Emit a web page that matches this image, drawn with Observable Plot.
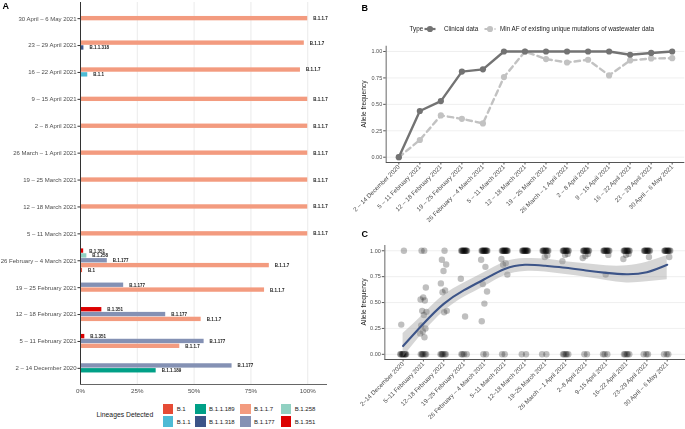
<!DOCTYPE html>
<html><head><meta charset="utf-8">
<script src="https://cdn.jsdelivr.net/npm/d3@7"></script>
<script src="https://cdn.jsdelivr.net/npm/@observablehq/plot@0.6"></script>
<style>
body{margin:0;background:#fff;font-family:"Liberation Sans",Arial,sans-serif;}
#root{position:relative;width:685px;height:429px;overflow:hidden;background:#fff;}
#root svg{position:absolute;will-change:transform;}
.t{position:absolute;white-space:nowrap;line-height:1;}
.plab{position:absolute;font-weight:bold;font-size:9px;color:#000;line-height:1;}
.ytitle{position:absolute;font-size:6.6px;color:#1a1a1a;white-space:nowrap;transform:translate(-50%,-50%) rotate(-90deg);line-height:1;}
.key{position:absolute;width:10.5px;height:10.5px;}
.ll{position:absolute;font-size:6px;color:#1a1a1a;line-height:1;transform:translateY(-50%);white-space:nowrap;}
</style></head><body><div id="root"></div>
<script>
// ---------- data ----------
const weeksA = ["2 – 14 December 2020","5 – 11 February 2021","12 – 18 February 2021","19 – 25 February 2021","26 February – 4 March 2021","5 – 11 March 2021","12 – 18 March 2021","19 – 25 March 2021","26 March – 1 April 2021","2 – 8 April 2021","9 – 15 April 2021","16 – 22 April 2021","23 – 29 April 2021","30 April – 6 May 2021"];
const weeksC = ["2–14 December 2020","5–11 February 2021","12–18 February 2021","19–25 February 2021","26 February – 4 March 2021","5–11 March 2021","12–18 March 2021","19–25 March 2021","26 March – 1 April 2021","2–8 April 2021","9–15 April 2021","16–22 April 2021","23–29 April 2021","30 April – 6 May 2021"];
const lineages = ["B.1","B.1.1","B.1.1.189","B.1.1.318","B.1.1.7","B.1.177","B.1.258","B.1.351"];
const lineageColors = ["#E64B35","#4DBBD5","#00A087","#3C5488","#F39B7F","#8491B4","#91D1C2","#DC0000"];
// percentage of each lineage per week (null = not detected), week order as weeksA
const shareB1       = [null,null,null,null,0.9,null,null,null,null,null,null,null,null,null];
const shareB11      = [null,null,null,null,null,null,null,null,null,null,null,3.2,null,null];
const shareB11189   = [33.3,null,null,null,null,null,null,null,null,null,null,null,null,null];
const shareB11318   = [null,null,null,null,null,null,null,null,null,null,null,null,1.5,null];
const shareB117     = [null,43.7,53.1,81.0,83.1,100,100,100,100,100,100,96.8,98.5,100];
const shareB1177    = [66.7,54.4,37.5,19.0,11.8,null,null,null,null,null,null,null,null,null];
const shareB1258    = [null,null,null,null,2.8,null,null,null,null,null,null,null,null,null];
const shareB1351    = [null,1.9,9.4,null,1.4,null,null,null,null,null,null,null,null,null];
const shares = [shareB1,shareB11,shareB11189,shareB11318,shareB117,shareB1177,shareB1258,shareB1351];

const clinicalAF = [0,0.437,0.531,0.81,0.831,1,1,1,1,1,1,0.969,0.986,1];
const minWastewaterAF = [0,0.163,0.395,0.363,0.32,0.758,1.0,0.928,0.896,0.922,0.774,0.915,0.934,0.937];

const afPoints = [
 [1.00,0.287,0,0,0,0,0,0,0,0,0,0],
 [1.00,1.00,0.645,0.55,0.53,0.52,0.42,0.41,0.38,0.28,0.25,0.22,0.20,0.165,0,0,0,0,0,0],
 [1.00,0.913,0.867,0.805,0.685,0.616,0.60,0.42,0.406,0,0,0,0,0,0],
 [1,1,1,1,1,1,1,1,1,1,1,1,0.73,0.365,0,0,0,0],
 [1,1,1,1,1,1,1,1,1,1,1,1,0.913,0.845,0.678,0.607,0.49,0.32,0,0],
 [1,1,1,1,1,1,1,1,1,1,1,1,0.92,0.88,0.865,0.77,0,0],
 [1,1,1,1,1,1,1,1,1,1,1,1,0,0],
 [1,1,1,1,1,1,1,1,1,1,0.955,0.94,0,0],
 [1,1,1,1,1,1,1,1,1,1,0.97,0.96,0.90,0,0,0,0,0],
 [1,1,1,1,1,1,1,1,1,1,0.97,0.95,0.93,0,0],
 [1,1,1,1,1,1,1,1,1,1,0.96,0.77,0,0,0],
 [1,1,1,1,1,1,1,1,1,1,0.97,0.96,0.92,0,0,0,0,0],
 [1,1,1,1,1,1,1,1,1,1,0.94,0,0,0],
 [1,1,1,1,1,1,1,1,1,1,0.94,0,0,0]
];
const smoothFit = [0.08,0.295,0.487,0.62,0.725,0.825,0.865,0.855,0.836,0.81,0.787,0.774,0.793,0.865];
const smoothLo  = [-0.03,0.21,0.41,0.55,0.655,0.76,0.80,0.795,0.77,0.745,0.713,0.69,0.70,0.72];
const smoothHi  = [0.20,0.385,0.57,0.69,0.79,0.89,0.925,0.92,0.895,0.875,0.855,0.855,0.89,0.955];

// ---------- helpers ----------
const root = document.getElementById("root");
const FONT = "'Liberation Sans', Arial, sans-serif";
function place(svg, left, top){ svg.style.left = left+"px"; svg.style.top = top+"px"; root.appendChild(svg); }
function addText(cls, txt, left, top, extra){ const d=document.createElement("div"); d.className=cls; d.textContent=txt; d.style.left=left+"px"; d.style.top=top+"px"; if(extra) Object.assign(d.style, extra); root.appendChild(d); return d; }

// ---------- Panel A ----------
const rowsA = [];
weeksA.forEach((w,i)=>{
  const present = lineages.map((l,j)=>({l, v: shares[j][i]})).filter(d=>d.v!=null);
  const n = present.length;
  present.forEach((d,k)=>{
    const c = i + (k-(n-1)/2)*0.18;
    rowsA.push({lineage:d.l, v:d.v/100, x0:0, y1:c-0.081, y2:c+0.081, yc:c});
  });
});
const plotA = Plot.plot({
  width:330, height:400, marginLeft:80, marginRight:3, marginTop:2, marginBottom:16,
  style:{fontFamily:FONT, background:"transparent", overflow:"visible"},
  x:{domain:[0,1.087]}, y:{domain:[-0.6,13.6]},
  color:{domain:lineages, range:lineageColors},
  marks:[
    Plot.gridX([0.25,0.5,0.75,1],{stroke:"#e6e6e6", strokeOpacity:1, strokeWidth:0.8}),
    Plot.rect(rowsA,{x1:"x0",x2:"v",y1:"y1",y2:"y2",fill:"lineage"}),
    Plot.text(rowsA,{x:"v",y:"yc",text:"lineage",dx:5.5,textAnchor:"start",fontSize:4.5,fontWeight:"bold",fill:"#1a1a1a"}),
    Plot.ruleX([0],{stroke:"#333",strokeWidth:1}),
    Plot.ruleY([-0.6],{stroke:"#555",strokeWidth:0.9}),
    Plot.axisY(d3.range(14),{tickFormat:i=>weeksA[i], tickSize:2.5, tickPadding:1.5, fontSize:6, color:"#4d4d4d", stroke:"#333", label:null}),
    Plot.axisX([0,0.25,0.5,0.75,1],{tickFormat:d3.format(".0%"), tickSize:0, tickPadding:4, fontSize:6.2, color:"#4d4d4d", label:null})
  ]
});
place(plotA,0,0);
addText("plab","A",2.5,2);

// Panel A legend
addText("t","Lineages Detected",96.5,412.2,{fontSize:"6.8px",color:"#1a1a1a"});
const legCols = [162.7,195,240,280.7];
const legRows = [403.5,416];
lineages.forEach((l,j)=>{
  const col = Math.floor(j/2), row = j%2;
  const k = document.createElement("div"); k.className="key";
  k.style.left=legCols[col]+"px"; k.style.top=legRows[row]+"px"; k.style.background=lineageColors[j];
  root.appendChild(k);
  addText("ll",l,legCols[col]+14,legRows[row]+5.5);
});

// ---------- Panel B ----------
const rowsB = weeksA.map((w,i)=>({i, clin:clinicalAF[i], ww:minWastewaterAF[i]}));
const plotB = Plot.plot({
  width:355, height:225, marginLeft:55.7, marginRight:0.7, marginTop:45.7, marginBottom:63,
  style:{fontFamily:FONT, background:"transparent", overflow:"visible"},
  x:{domain:[-0.6,13.6]}, y:{domain:[-0.05,1.05]},
  marks:[
    Plot.gridY([0,0.25,0.5,0.75,1],{stroke:"#ebebeb",strokeOpacity:1,strokeWidth:0.8}),
    Plot.line(rowsB,{x:"i",y:"ww",stroke:"#c2c2c2",strokeWidth:2.4,strokeDasharray:"5.5,4"}),
    Plot.dot(rowsB,{x:"i",y:"ww",fill:"#c2c2c2",r:3.1}),
    Plot.line(rowsB,{x:"i",y:"clin",stroke:"#737373",strokeWidth:2.4}),
    Plot.dot(rowsB,{x:"i",y:"clin",fill:"#737373",r:3.1}),
    Plot.ruleX([-0.6],{stroke:"#8a8a8a",strokeWidth:1.3}),
    Plot.ruleY([-0.05],{stroke:"#555",strokeWidth:1}),
    Plot.axisY([0,0.25,0.5,0.75,1],{tickFormat:d3.format(".2f"), tickSize:2.5, tickPadding:1.5, fontSize:5.5, color:"#4d4d4d", stroke:"#555", label:null}),
    Plot.axisX(d3.range(14),{tickFormat:i=>weeksA[i], tickRotate:-45, tickSize:2.5, tickPadding:1, fontSize:6.2, color:"#4d4d4d", stroke:"#555", label:null})
  ]
});
place(plotB,330,0);
addText("plab","B",361.5,3.5);
addText("ytitle","Allele frequency",363.5,104);

// Panel B legend (inline svg keys)
addText("ll","Type",409.5,29.3,{fontSize:"6.3px"});
function legKey(left, color, dashed){
  const ns="http://www.w3.org/2000/svg";
  const s=document.createElementNS(ns,"svg"); s.setAttribute("width",12); s.setAttribute("height",10);
  s.style.left=left+"px"; s.style.top="24.3px";
  const ln=document.createElementNS(ns,"line"); ln.setAttribute("x1",0.5); ln.setAttribute("x2",11.5); ln.setAttribute("y1",5); ln.setAttribute("y2",5);
  ln.setAttribute("stroke",color); ln.setAttribute("stroke-width",2.2); if(dashed) ln.setAttribute("stroke-dasharray","3,2");
  const c=document.createElementNS(ns,"circle"); c.setAttribute("cx",6); c.setAttribute("cy",5); c.setAttribute("r",3.1); c.setAttribute("fill",color);
  s.appendChild(ln); s.appendChild(c); root.appendChild(s);
}
legKey(424,"#737373",false);
addText("ll","Clinical data",444,29.3,{fontSize:"6.3px"});
legKey(483.5,"#c2c2c2",true);
addText("ll","Min AF of existing unique mutations of wastewater data",500,29.3,{fontSize:"6.3px"});

// ---------- Panel C ----------
const ptsC = [];
afPoints.forEach((vals,i)=>{
  vals.forEach((v,k)=>{
    const off = ((((k+1)*0.6180339887) % 1) - 0.5) * 0.34;
    ptsC.push({xj:i+off, v});
  });
});
const smoothC = weeksC.map((w,i)=>({i, fit:smoothFit[i], lo:smoothLo[i], hi:smoothHi[i]}));
const plotC = Plot.plot({
  width:355, height:204, marginLeft:54.3, marginRight:0, marginTop:20.1, marginBottom:70,
  style:{fontFamily:FONT, background:"transparent", overflow:"visible"},
  x:{domain:[-0.9,13.9]}, y:{domain:[-0.05,1.05]},
  marks:[
    Plot.gridY([0,0.25,0.5,0.75,1],{stroke:"#ebebeb",strokeOpacity:1,strokeWidth:0.8}),
    Plot.dot(ptsC,{x:"xj",y:"v",fill:"#000",fillOpacity:0.25,r:3.2}),
    Plot.areaY(smoothC,{x:"i",y1:"lo",y2:"hi",fill:"#999",fillOpacity:0.4,curve:"natural"}),
    Plot.line(smoothC,{x:"i",y:"fit",stroke:"#3C5488",strokeWidth:2.1,curve:"natural"}),
    Plot.ruleX([-0.9],{stroke:"#8a8a8a",strokeWidth:1.3}),
    Plot.ruleY([-0.05],{stroke:"#555",strokeWidth:1}),
    Plot.axisY([0,0.25,0.5,0.75,1],{tickFormat:d3.format(".2f"), tickSize:2.5, tickPadding:1.5, fontSize:5.5, color:"#4d4d4d", stroke:"#555", label:null}),
    Plot.axisX(d3.range(14),{tickFormat:i=>weeksC[i], tickRotate:-45, tickSize:2.5, tickPadding:1, fontSize:6.2, color:"#4d4d4d", stroke:"#555", label:null})
  ]
});
place(plotC,330,225);
addText("plab","C",361.5,229.5);
addText("ytitle","Allele frequency",363.5,302);
</script></body></html>
